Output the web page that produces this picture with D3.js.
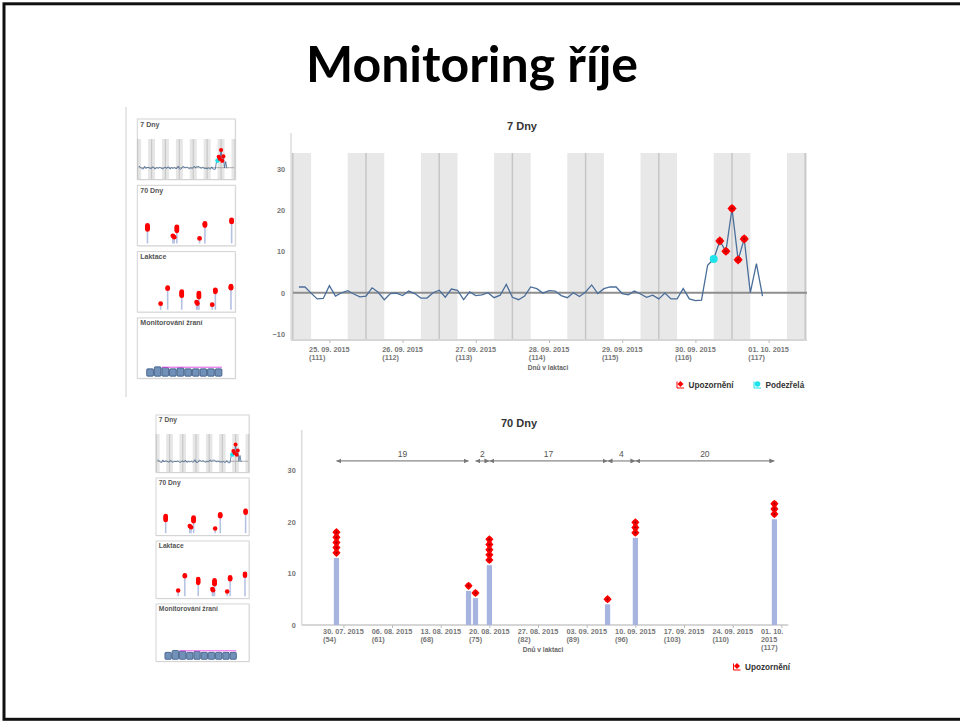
<!DOCTYPE html>
<html>
<head>
<meta charset="utf-8">
<title>Monitoring říje</title>
<style>
  body { margin: 0; background: #fff; }
  svg { display: block; font-family: 'Liberation Sans', Arial, sans-serif; }
  .slide-title { font-family: Lato, sans-serif; font-weight: 700; font-size: 50px; fill: #000; }
  .chart-title { font-weight: 700; font-size: 11px; fill: #333; }
  .tick-label { font-weight: 700; font-size: 7.3px; fill: #777; }
  .y-label { font-weight: 700; font-size: 7.3px; fill: #777; }
  .axis-title { font-weight: 700; font-size: 6.6px; fill: #666; }
  .legend-text { font-weight: 700; font-size: 8.2px; fill: #333; }
  .thumb-label { font-weight: 700; font-size: 7px; fill: #555; }
  .gap-label { font-size: 8.5px; fill: #555; }
</style>
</head>
<body>
<svg width="960" height="721"></svg>
<script src="https://d3js.org/d3.v7.min.js"></script>
<script>
// ---- 7 day activity (every 2 hours from 25.09.2015 02:00) ----
const sevenStart = new Date(2015, 8, 25, 2)
const sevenStepHours = 2
const sevenValues = [
  1.4, 1.4, -0.1, -1.5, -1.4, 1.7, -0.8, 0, 0.5, -0.3, -1.0, -0.8,
  1.2, 0.1, -1.7, -0.2, -0.1, -0.7, 0.4, -0.2, -1.3, -1.3, 0, 0.6,
  -1.1, 0.9, 0.6, -1.7, 0.2, -0.7, -0.5, 0, -1.2, -0.6, 2.0, -1.1,
  -1.7, -0.8, 1.4, 1.0, -0.1, 0.5, 0.4, -0.7, -1.2, 0, -0.9, 0.2,
  1.9, -0.2, 1.0, 1.4, 1.4, -0.2, -0.5, 0.4, -0.3, -1.1, -0.6, -1.5,
  -0.1, -1.5, -1.5, 1.0, -1.5, -1.9, -1.8, 6.7, 8.2, 12.6, 10.1, 20.5,
  8.0, 13.1, 0, 7.1, -0.8
]
const alertIdx = [69, 70, 71, 72, 73]
const suspectIdx = [68]
const sevenTickDates = ["2015-09-25", "2015-09-26", "2015-09-27", "2015-09-28", "2015-09-29", "2015-09-30", "2015-10-01"]
const sevenYTicks = [-10, 0, 10, 20, 30]

// ---- 70 day heat events ----
const eventDates = ["2015-07-29", "2015-08-17", "2015-08-18", "2015-08-20", "2015-09-06", "2015-09-10", "2015-09-30"]
const eventValues = [13, 6.6, 5.2, 11.6, 4.0, 16.9, 20.5]
const eventAlerts = [5, 1, 1, 5, 1, 3, 3]
const gapPairs = [[0, 1], [2, 3], [3, 4], [4, 5], [5, 6]]
const seventyTickDates = ["2015-07-30", "2015-08-06", "2015-08-13", "2015-08-20", "2015-08-27", "2015-09-03", "2015-09-10", "2015-09-17", "2015-09-24", "2015-10-01"]
const seventyYTicks = [0, 10, 20, 30]

// lactation day reference
const lactRefDate = "2015-10-01"
const lactRefDay = 117

// ---- thumbnails ----
const thumbNames = ["7 Dny", "70 Dny", "Laktace", "Monitorování žraní"]
const earlyLactDays = [26, 35]
const earlyLactValues = [5, 20]
const earlyLactAlerts = [1, 2]
const feedValues = [22, 28, 26, 22, 25, 22, 22, 22, 22, 22]
const feedTarget = 27

const parse = d3.timeParse("%Y-%m-%d")
const fmtDate = d3.timeFormat("%d. %m. %Y")
const fmtDayMonth = d3.timeFormat("%d. %m.")
const fmtYear = d3.timeFormat("%Y")
const lactDay = d => lactRefDay - d3.timeDay.count(d, parse(lactRefDate))

const svg = d3.select("svg")

// slide frame + title
svg.append("rect")
  .attr("x", 4).attr("y", 3.8).attr("width", 980).attr("height", 715.5)
  .attr("fill", "none").attr("stroke", "#111").attr("stroke-width", 3)

svg.append("text").attr("class", "slide-title")
  .attr("x", 472).attr("y", 82).attr("text-anchor", "middle")
  .text("Monitoring říje")

svg.append("line")
  .attr("x1", 126).attr("x2", 126).attr("y1", 107).attr("y2", 397)
  .attr("stroke", "#cfcfcf")

const defs = svg.append("defs")
defs.append("marker")
  .attr("id", "head")
  .attr("viewBox", "0 0 5 5")
  .attr("refX", 5).attr("refY", 2.5)
  .attr("markerWidth", 5).attr("markerHeight", 5)
  .attr("markerUnits", "userSpaceOnUse")
  .attr("orient", "auto-start-reverse")
  .append("path").attr("d", "M0,0L5,2.5L0,5Z").attr("fill", "#777")

function alertMark(sel, r) {
  sel.append("path").attr("d", `M0,${-r}L${r},0L0,${r}L${-r},0Z`).attr("fill", "#f00")
  sel.append("circle").attr("r", r * 0.72).attr("fill", "#f00")
  sel.append("path")
    .attr("d", `M${-r * 0.35},0H${r * 0.35}M0,${-r * 0.35}V${r * 0.35}`)
    .attr("stroke", "#9a0000").attr("stroke-width", 0.7)
}

function legendItem(x, y, color, label, kind) {
  const g = svg.append("g").attr("transform", `translate(${x},${y})`)
  g.append("path").attr("d", "M-3.5,-3V3.5H3.5").attr("fill", "none").attr("stroke", color).attr("stroke-width", 1)
  if (kind === "alert") {
    g.append("path").attr("d", "M0,-3.5L3,-0.5L0,2.5L-3,-0.5Z").attr("fill", color)
  } else {
    g.append("circle").attr("cy", -0.5).attr("r", 2.8).attr("fill", color)
  }
  g.append("text").attr("class", "legend-text").attr("x", 8).attr("y", 3).text(label)
}

// two / three line date labels under an axis
function tickLabels(g, scale, dates, y0, lineH, xMax, atTime) {
  dates.forEach(d => {
    const x = scale(atTime(d))
    const t = g.append("text").attr("class", "tick-label").attr("y", y0)
    let lines = [fmtDate(d), `(${lactDay(d)})`]
    t.text(lines[0])
    const fullLen = t.node().getComputedTextLength()
    if (x + fullLen / 2 > xMax) lines = [fmtDayMonth(d), fmtYear(d), `(${lactDay(d)})`]
    t.text(null)
    lines.forEach((s, i) => t.append("tspan").attr("y", y0 + i * lineH).text(s))
    const len = t.select("tspan").node().getComputedTextLength()
    const start = Math.min(x - len / 2, xMax - 5 - len)
    t.selectAll("tspan").attr("x", start)
  })
}

// ================= 7 Dny =================
const x7 = d3.scaleTime()
  .domain([new Date(2015, 8, 24, 23, 25), new Date(2015, 9, 2, 0, 35)])
  .range([291, 807])
const y7 = d3.scaleLinear().domain([-11.5, 34]).range([340, 153])

const sevenData = sevenValues.map((v, i) => ({
  time: d3.timeHour.offset(sevenStart, i * sevenStepHours), value: v, i
}))
const nights = d3.timeDay.range(new Date(2015, 8, 25), new Date(2015, 9, 3))

const topChart = svg.append("g")
topChart.append("clipPath").attr("id", "clip7")
  .append("rect").attr("x", 291).attr("y", 153).attr("width", 516).attr("height", 187)
const bandG = topChart.append("g").attr("clip-path", "url(#clip7)")
bandG.selectAll("rect").data(nights).join("rect")
  .attr("x", d => x7(d3.timeHour.offset(d, -6)))
  .attr("width", d => x7(d3.timeHour.offset(d, 6)) - x7(d3.timeHour.offset(d, -6)))
  .attr("y", 153).attr("height", 187)
  .attr("fill", "#e8e8e8")
bandG.selectAll("line").data(nights).join("line")
  .attr("x1", d => x7(d)).attr("x2", d => x7(d))
  .attr("y1", 153).attr("y2", 340)
  .attr("stroke", "#c6c6c6").attr("stroke-width", 1.5)

topChart.append("line")
  .attr("x1", 291).attr("x2", 291).attr("y1", 133).attr("y2", 340)
  .attr("stroke", "#dcdcdc").attr("stroke-width", 1.5)
topChart.append("line")
  .attr("x1", 291).attr("x2", 807).attr("y1", 340).attr("y2", 340)
  .attr("stroke", "#d6d6d6").attr("stroke-width", 2)

topChart.append("line")
  .attr("x1", 293).attr("x2", 807).attr("y1", y7(0)).attr("y2", y7(0))
  .attr("stroke", "#8e8e8e").attr("stroke-width", 2)

topChart.append("path").datum(sevenData)
  .attr("fill", "none").attr("stroke", "#4a6e99").attr("stroke-width", 1.3)
  .attr("d", d3.line().x(d => x7(d.time)).y(d => y7(d.value)))

topChart.selectAll("circle.suspect").data(suspectIdx.map(i => sevenData[i])).join("circle")
  .attr("class", "suspect")
  .attr("cx", d => x7(d.time)).attr("cy", d => y7(d.value)).attr("r", 4)
  .attr("fill", "#1de3ea")
topChart.selectAll("g.alert").data(alertIdx.map(i => sevenData[i])).join("g")
  .attr("class", "alert")
  .attr("transform", d => `translate(${x7(d.time)},${y7(d.value)})`)
  .each(function () { alertMark(d3.select(this), 4.6) })

const y7Axis = topChart.append("g").attr("transform", "translate(291,0)")
  .call(d3.axisLeft(y7).tickValues(sevenYTicks).tickSize(0).tickPadding(6))
y7Axis.select(".domain").remove()
y7Axis.attr("font-size", null).attr("font-family", null)
y7Axis.selectAll("text").attr("class", "y-label").attr("fill", null)

const x7Axis = topChart.append("g").attr("transform", "translate(0,340)")
  .call(d3.axisBottom(x7).tickValues(sevenTickDates.map(s => d3.timeHour.offset(parse(s), 12))).tickSize(3).tickFormat(""))
x7Axis.select(".domain").remove()
x7Axis.selectAll("line").attr("stroke", "#bbb")
tickLabels(topChart, x7, sevenTickDates.map(parse), 351.5, 8.3, 807, d => d3.timeHour.offset(d, 12))

topChart.append("text").attr("class", "chart-title")
  .attr("x", 522).attr("y", 130).attr("text-anchor", "middle").text("7 Dny")
topChart.append("text").attr("class", "axis-title")
  .attr("x", 548).attr("y", 370).attr("text-anchor", "middle").text("Dnů v laktaci")

legendItem(680.5, 384.5, "#f00", "Upozornění", "alert")
legendItem(757.5, 384.5, "#1de3ea", "Podezřelá", "suspect")

// ================= 70 Dny =================
const x70 = d3.scaleTime()
  .domain([new Date(2015, 6, 24), new Date(2015, 9, 2)])
  .range([301.7, 788.3])
const y70 = d3.scaleLinear().domain([0, 37.8]).range([625, 430])

const events = eventDates.map((s, i) => ({
  date: parse(s), value: eventValues[i], alerts: eventAlerts[i]
}))

const bottomChart = svg.append("g")
bottomChart.append("line")
  .attr("x1", 301.7).attr("x2", 301.7).attr("y1", 430).attr("y2", 625)
  .attr("stroke", "#dcdcdc").attr("stroke-width", 1.5)
bottomChart.append("line")
  .attr("x1", 301.7).attr("x2", 788.3).attr("y1", 625).attr("y2", 625)
  .attr("stroke", "#d6d6d6").attr("stroke-width", 2)

bottomChart.selectAll("rect.bar").data(events).join("rect")
  .attr("class", "bar")
  .attr("x", d => x70(d.date) - 2.6).attr("width", 5.2)
  .attr("y", d => y70(d.value)).attr("height", d => y70(0) - y70(d.value))
  .attr("fill", "#a6b4df")

const stacked = events.flatMap(d => d3.range(d.alerts).map(k => ({ date: d.date, v: d.value + 1 + k })))
bottomChart.selectAll("g.alert").data(stacked).join("g")
  .attr("class", "alert")
  .attr("transform", d => `translate(${x70(d.date)},${y70(d.v)})`)
  .each(function () { alertMark(d3.select(this), 4.1) })

const gapY = y70(31.8)
const gaps = gapPairs.map(([a, b]) => ({
  x1: x70(events[a].date), x2: x70(events[b].date),
  days: d3.timeDay.count(events[a].date, events[b].date)
}))
bottomChart.selectAll("line.gap").data(gaps).join("line")
  .attr("class", "gap")
  .attr("x1", d => d.x1).attr("x2", d => d.x2)
  .attr("y1", gapY).attr("y2", gapY)
  .attr("stroke", "#888").attr("stroke-width", 1.2)
  .attr("marker-start", "url(#head)").attr("marker-end", "url(#head)")
bottomChart.selectAll("text.gap-label").data(gaps).join("text")
  .attr("class", "gap-label")
  .attr("x", d => (d.x1 + d.x2) / 2).attr("y", gapY - 3.5)
  .attr("text-anchor", "middle")
  .text(d => d.days)

const y70Axis = bottomChart.append("g").attr("transform", "translate(301.7,0)")
  .call(d3.axisLeft(y70).tickValues(seventyYTicks).tickSize(0).tickPadding(6))
y70Axis.select(".domain").remove()
y70Axis.attr("font-size", null).attr("font-family", null)
y70Axis.selectAll("text").attr("class", "y-label").attr("fill", null)

const x70Axis = bottomChart.append("g").attr("transform", "translate(0,625)")
  .call(d3.axisBottom(x70).tickValues(seventyTickDates.map(parse)).tickSize(3).tickFormat(""))
x70Axis.select(".domain").remove()
x70Axis.selectAll("line").attr("stroke", "#bbb")
tickLabels(bottomChart, x70, seventyTickDates.map(parse), 634.3, 7.7, 788.3, d => d)

bottomChart.append("text").attr("class", "chart-title")
  .attr("x", 519).attr("y", 427).attr("text-anchor", "middle").text("70 Dny")
bottomChart.append("text").attr("class", "axis-title")
  .attr("x", 543).attr("y", 652).attr("text-anchor", "middle").text("Dnů v laktaci")

legendItem(737, 666.5, "#f00", "Upozornění", "alert")

// ================= thumbnails =================
function drawThumbs(x0, y0, s) {
  const W = 98, H = 60.5, STEP = 66.3
  const g = svg.append("g").attr("transform", `translate(${x0},${y0}) scale(${s})`)
  const boxes = g.selectAll("g.thumb").data(thumbNames).join("g")
    .attr("class", "thumb")
    .attr("transform", (d, i) => `translate(0,${i * STEP})`)
  boxes.append("rect").attr("x", 1).attr("y", 1).attr("width", W).attr("height", H).attr("fill", "#ececec")
  boxes.append("rect").attr("width", W).attr("height", H)
    .attr("fill", "#fff").attr("stroke", "#d2d2d2").attr("stroke-width", 1)

  // 7 Dny
  const b0 = boxes.filter((d, i) => i === 0)
  const tx = d3.scaleTime().domain(x7.domain()).range([0, W])
  const ty = d3.scaleLinear().domain([0, 20.5]).range([48.7, 31])
  b0.selectAll("rect.band").data(nights).join("rect")
    .attr("class", "band")
    .attr("x", d => Math.max(0, tx(d3.timeHour.offset(d, -6))))
    .attr("width", d => Math.max(0, Math.min(W, tx(d3.timeHour.offset(d, 6))) - Math.max(0, tx(d3.timeHour.offset(d, -6)))))
    .attr("y", 20).attr("height", H - 20.5)
    .attr("fill", "#e6e6e6")
  b0.selectAll("line.night").data(nights.filter(d => tx(d) < W)).join("line")
    .attr("class", "night")
    .attr("x1", d => tx(d)).attr("x2", d => tx(d)).attr("y1", 20).attr("y2", H - 0.5)
    .attr("stroke", "#c8c8c8").attr("stroke-width", 1.2)
  b0.append("line").attr("x1", 1).attr("x2", W - 1).attr("y1", ty(0)).attr("y2", ty(0))
    .attr("stroke", "#999").attr("stroke-width", 0.8)
  b0.append("path").datum(sevenData)
    .attr("fill", "none").attr("stroke", "#3f6592").attr("stroke-width", 0.8)
    .attr("d", d3.line().x(d => tx(d.time)).y(d => ty(d.value)))
  b0.selectAll("circle.sus").data(suspectIdx.map(i => sevenData[i])).join("circle")
    .attr("class", "sus").attr("cx", d => tx(d.time)).attr("cy", d => ty(d.value)).attr("r", 2.3).attr("fill", "#1de3ea")
  b0.selectAll("circle.al").data(alertIdx.map(i => sevenData[i])).join("circle")
    .attr("class", "al").attr("cx", d => tx(d.time)).attr("cy", d => ty(d.value)).attr("r", 2.1).attr("fill", "#f00")

  // lollipop thumbs
  const sy = d3.scaleLinear().domain([0, 40]).range([H - 2.4, H - 42.4])
  function lollipops(box, data, xs) {
    box.selectAll("line.stem").data(data).join("line")
      .attr("class", "stem")
      .attr("x1", d => xs(d.x)).attr("x2", d => xs(d.x))
      .attr("y1", H - 2.4).attr("y2", d => sy(d.value))
      .attr("stroke", "#b5c1e3").attr("stroke-width", 1.6)
    const dots = data.flatMap(d => d3.range(d.alerts).map(k => ({ x: d.x, v: d.value + 1 + k })))
    box.selectAll("circle.dot").data(dots).join("circle")
      .attr("class", "dot")
      .attr("cx", d => xs(d.x)).attr("cy", d => sy(d.v)).attr("r", 2.4)
      .attr("fill", "#f00")
  }
  const sx70 = d3.scaleTime().domain(x70.domain()).range([3.5, 97])
  lollipops(boxes.filter((d, i) => i === 1),
    events.map(e => ({ x: e.date, value: e.value, alerts: e.alerts })), sx70)

  const lx = d3.scaleLinear().domain([0, 120]).range([3, 96.8])
  const lactData = earlyLactDays.map((d, i) => ({ x: d, value: earlyLactValues[i], alerts: earlyLactAlerts[i] }))
    .concat(events.map(e => ({ x: lactDay(e.date), value: e.value, alerts: e.alerts })))
  lollipops(boxes.filter((d, i) => i === 2), lactData, lx)

  // feeding
  const b3 = boxes.filter((d, i) => i === 3)
  const fx = d3.scaleBand().domain(d3.range(feedValues.length)).range([8.5, 85.5]).padding(0.12)
  const fy = d3.scaleLinear().domain([0, 30]).range([58.3, 48.3])
  b3.selectAll("rect.feed").data(feedValues).join("rect")
    .attr("class", "feed")
    .attr("x", (d, i) => fx(i)).attr("width", fx.bandwidth())
    .attr("y", d => fy(d)).attr("height", d => fy(0) - fy(d))
    .attr("rx", 1)
    .attr("fill", "#7291b9").attr("stroke", "#35537d").attr("stroke-width", 0.8)
  b3.append("line")
    .attr("x1", fx(2)).attr("x2", fx(feedValues.length - 1) + fx.bandwidth())
    .attr("y1", fy(feedTarget)).attr("y2", fy(feedTarget))
    .attr("stroke", "#e040e0").attr("stroke-width", 0.9)

  boxes.append("text").attr("class", "thumb-label").attr("x", 3).attr("y", 7.5).text(d => d)
}

drawThumbs(137.3, 119, 1)
drawThumbs(156, 415, 0.95)
</script>
</body>
</html>
